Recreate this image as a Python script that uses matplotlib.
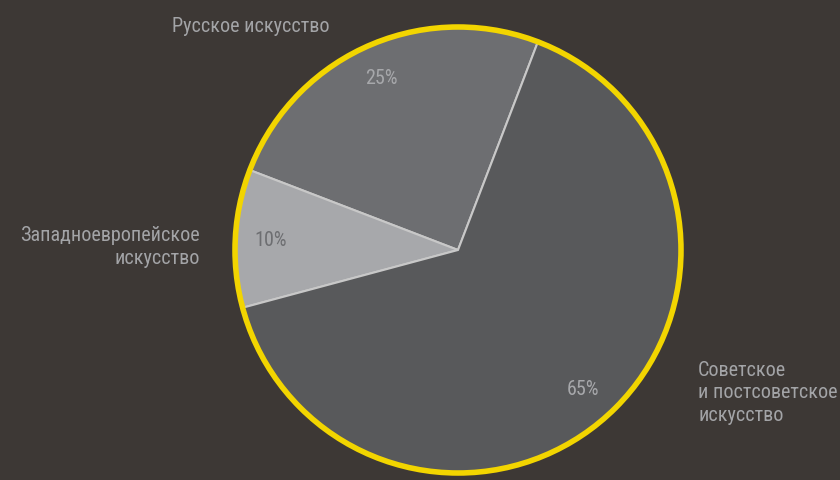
import matplotlib
matplotlib.use("Agg")
import matplotlib.pyplot as plt
from matplotlib.patches import Circle

categories = ["Русское искусство", "Западноевропейское\nискусство", "Советское\nи постсоветское\nискусство"]
values = [25, 10, 65]
colors = ["#6d6e71", "#a7a8ab", "#58595b"]
pct_colors = ["#a7a8ab", "#6d6e71", "#a7a8ab"]

bg = "#3d3835"
fam = ["Roboto Condensed", "Roboto", "DejaVu Sans"]

fig = plt.figure(figsize=(8.4, 4.8), dpi=100, facecolor=bg)
ax = fig.add_axes([0, 0, 1, 1])
ax.set_facecolor(bg)

cx, cy, r = 458, 230, 223
wedges, texts, autotexts = ax.pie(
    values, colors=colors, startangle=69, counterclock=True,
    center=(cx, cy), radius=r, frame=True,
    autopct=lambda p: f"{p:.0f}%", pctdistance=0.84,
    wedgeprops=dict(edgecolor="#c8c8c8", linewidth=1.5),
    textprops=dict(fontsize=14.5, family=fam),
)
ax.set_xlim(0, 840)
ax.set_ylim(0, 480)
ax.set_aspect("equal")
ax.axis("off")
for t, c in zip(autotexts, pct_colors):
    t.set_color(c)
for t in texts:
    t.set_visible(False)

ax.add_patch(Circle((cx, cy), r, fill=False, edgecolor="#f2d500", linewidth=4, zorder=5))

label_pos = [(330, 454, "right"), (200, 233, "right"), (698, 87, "left")]
for name, (x, y, ha) in zip(categories, label_pos):
    ax.text(x, y, name, ha=ha, va="center", color="#a3a4a7", fontsize=14.5,
            family=fam, linespacing=1.25)

fig.savefig("out.png", dpi=100, facecolor=bg)
